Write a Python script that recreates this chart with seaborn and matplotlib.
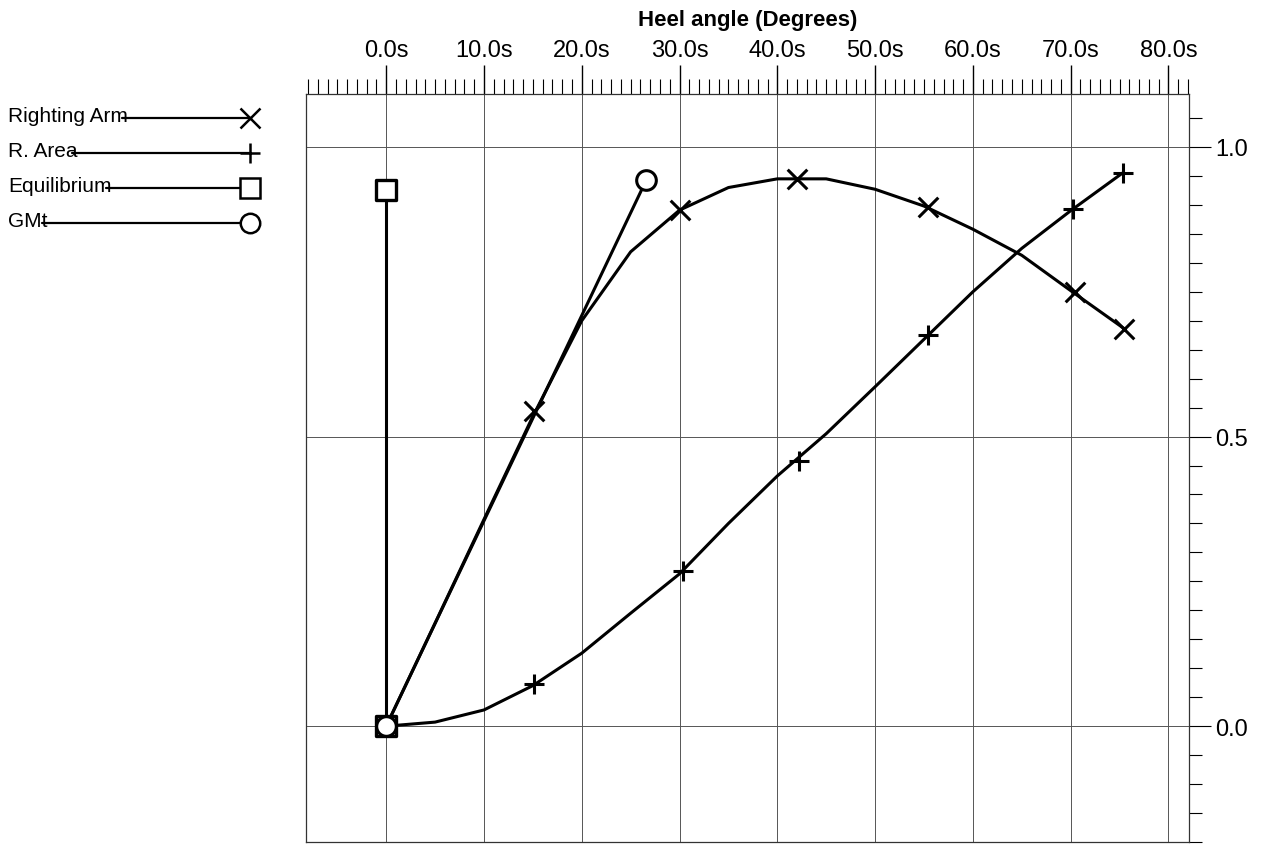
import matplotlib
matplotlib.use("Agg")
import matplotlib.pyplot as plt
import seaborn as sns
import pandas as pd
from matplotlib.ticker import MultipleLocator
from matplotlib.lines import Line2D

# Righting arm curve (heel angle in degrees, value)
ra_angle = [0, 5, 10, 15, 20, 25, 30, 35, 40, 45, 50, 55, 60, 65, 70, 75.5]
ra_value = [0.0, 0.178, 0.357, 0.535, 0.70, 0.819, 0.891, 0.930, 0.945, 0.945,
            0.927, 0.898, 0.858, 0.813, 0.752, 0.686]
ra_mark_angle = [0, 15.1, 30.0, 42.0, 55.4, 70.4, 75.5]
ra_mark_value = [0.0, 0.545, 0.891, 0.945, 0.896, 0.750, 0.686]

# Righting area curve
area_angle = [0, 5, 10, 15, 20, 25, 30, 35, 40, 45, 50, 55, 60, 65, 70, 75.3]
area_value = [0.0, 0.007, 0.028, 0.070, 0.126, 0.195, 0.263, 0.350, 0.432, 0.505,
              0.586, 0.668, 0.750, 0.825, 0.890, 0.955]
area_mark_angle = [0, 15.1, 30.4, 42.2, 55.4, 70.2, 75.3]
area_mark_value = [0.0, 0.073, 0.268, 0.458, 0.675, 0.893, 0.955]

# Equilibrium and GMt
eq_angle = [0, 0]
eq_value = [0.0, 0.926]
gmt_angle = [0, 26.6]
gmt_value = [0.0, 0.943]

x_ticks = [0, 10, 20, 30, 40, 50, 60, 70, 80]
x_tick_labels = [f"{v:.1f}s" for v in x_ticks]
y_ticks = [0.0, 0.5, 1.0]
y_tick_labels = [f"{v:.1f}" for v in y_ticks]

legend_labels = ["Righting Arm", "R. Area", "Equilibrium", "GMt"]
legend_markers = ["x", "+", "s", "o"]

sns.set_style("white")
plt.rcParams['font.family'] = ['Liberation Sans', 'DejaVu Sans']
plt.rcParams['text.color'] = 'black'
plt.rcParams['axes.labelcolor'] = 'black'
plt.rcParams['xtick.color'] = 'black'
plt.rcParams['ytick.color'] = 'black'

W, H = 1265, 845
fig = plt.figure(figsize=(W / 100, H / 100), dpi=100)
ax = fig.add_axes([306 / W, 2 / H, (1189 - 306) / W, (843 - 95) / H])

lw = 2.2
sns.lineplot(x=ra_angle, y=ra_value, sort=False, estimator=None, color="black", lw=lw, ax=ax)
sns.lineplot(x=area_angle, y=area_value, sort=False, estimator=None, color="black", lw=lw, ax=ax)
sns.lineplot(x=gmt_angle, y=gmt_value, sort=False, estimator=None, color="black", lw=lw, ax=ax)
sns.lineplot(x=eq_angle, y=eq_value, sort=False, estimator=None, color="black", lw=lw, ax=ax)

sns.scatterplot(x=ra_mark_angle, y=ra_mark_value, marker="x", color="black", s=200, linewidth=2.2, ax=ax, zorder=4)
sns.scatterplot(x=area_mark_angle, y=area_mark_value, marker="+", color="black", s=220, linewidth=2.2, ax=ax, zorder=4)
sns.scatterplot(x=eq_angle, y=eq_value, marker="s", facecolor="white", edgecolor="black", s=200, linewidth=2.4, ax=ax, zorder=5)
sns.scatterplot(x=gmt_angle, y=gmt_value, marker="o", facecolor="white", edgecolor="black", s=200, linewidth=2.2, ax=ax, zorder=6)

ax.set_xlim(-8.2, 82.1)
ax.set_ylim(-0.2, 1.0915)

# top axis
ax.xaxis.tick_top()
ax.xaxis.set_label_position("top")
ax.set_xticks(x_ticks)
ax.set_xticklabels(x_tick_labels, fontsize=17)
ax.xaxis.set_minor_locator(MultipleLocator(1))
ax.tick_params(axis="x", which="major", direction="out", length=21, width=1, pad=3, top=True, bottom=False)
ax.tick_params(axis="x", which="minor", direction="out", length=11, width=0.8, top=True, bottom=False)
ax.set_xlabel("Heel angle (Degrees)", fontsize=16, fontweight="bold", labelpad=10)

# right axis
ax.yaxis.tick_right()
ax.set_yticks(y_ticks)
ax.set_yticklabels(y_tick_labels, fontsize=17)
ax.yaxis.set_minor_locator(MultipleLocator(0.05))
ax.tick_params(axis="y", which="major", direction="out", length=16, width=0.8, pad=3, right=True, left=False)
ax.tick_params(axis="y", which="minor", direction="out", length=9, width=0.8, right=True, left=False)
ax.set_ylabel("")

ax.grid(True, which="major", color="#555555", lw=0.7)
for side in ax.spines.values():
    side.set_visible(True)
    side.set_color("#333333")
    side.set_linewidth(0.9)

# legend drawn on the left in pixel coordinates
fig.canvas.draw()
renderer = fig.canvas.get_renderer()
for i, (lab, mk) in enumerate(zip(legend_labels, legend_markers)):
    ypx = 117 + i * 35
    t = fig.text(8 / W, 1 - ypx / H, lab, fontsize=15, va="center", ha="left", zorder=3)
    bb = t.get_window_extent(renderer)
    x0 = bb.x1 - 6
    ly = 1 - (ypx + 2) / H
    fig.add_artist(Line2D([x0 / W, 250 / W], [ly, ly], transform=fig.transFigure,
                          color="black", lw=1.6, zorder=2))
    filled = mk in ("s", "o")
    fig.add_artist(Line2D([250 / W], [ly], transform=fig.transFigure, marker=mk,
                          markersize=14, markeredgewidth=1.8, color="black",
                          markerfacecolor="white" if filled else "black", lw=0, zorder=4))

fig.savefig("out.png", dpi=100)
